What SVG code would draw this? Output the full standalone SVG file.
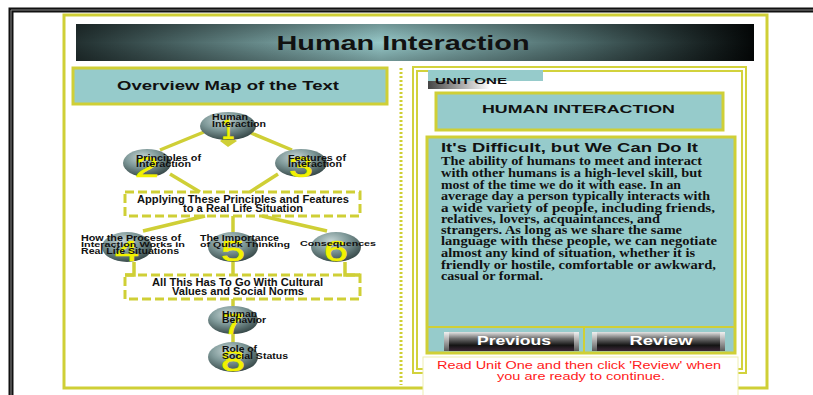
<svg xmlns="http://www.w3.org/2000/svg" width="813" height="395" viewBox="0 0 813 395">
<defs>
<linearGradient id="hdr" x1="0" y1="0" x2="1" y2="0">
<stop offset="0" stop-color="#223030"/>
<stop offset="0.45" stop-color="#96c8c8"/>
<stop offset="0.75" stop-color="#4a6666"/>
<stop offset="1" stop-color="#040707"/>
</linearGradient>
<linearGradient id="hdrv" x1="0" y1="0" x2="0" y2="1">
<stop offset="0" stop-color="#000" stop-opacity="0.25"/>
<stop offset="0.5" stop-color="#000" stop-opacity="0"/>
<stop offset="1" stop-color="#000" stop-opacity="0.25"/>
</linearGradient>
<linearGradient id="unitg" x1="0" y1="0" x2="1" y2="0">
<stop offset="0" stop-color="#444"/>
<stop offset="1" stop-color="#fff"/>
</linearGradient>
<radialGradient id="ball" cx="0.4" cy="0.3" r="0.7">
<stop offset="0" stop-color="#c4d4d4"/>
<stop offset="0.5" stop-color="#7e9898"/>
<stop offset="1" stop-color="#3a4c4c"/>
</radialGradient>
<linearGradient id="btn" x1="0" y1="0" x2="0" y2="1">
<stop offset="0" stop-color="#e4e4e4"/>
<stop offset="0.35" stop-color="#6c6c6c"/>
<stop offset="0.7" stop-color="#141414"/>
<stop offset="1" stop-color="#3c2838"/>
</linearGradient>
<linearGradient id="cap" x1="0" y1="0" x2="0" y2="1">
<stop offset="0" stop-color="#f0f0f0"/>
<stop offset="1" stop-color="#5a5a5a"/>
</linearGradient>
</defs>
<style>
.y{fill:none;stroke:#cfcf36;stroke-width:3}
.yt{fill:none;stroke:#d2d23c;stroke-width:2}
.teal{fill:#96cbcb}
.con{fill:none;stroke:#cfcf36;stroke-width:3.5}
.dash{fill:none;stroke:#cfcf36;stroke-width:3;stroke-dasharray:9 4}
.ball{fill:url(#ball)}
.num{font-family:"Liberation Sans",Arial,sans-serif;font-size:29px;fill:#f2f200;stroke:#f2f200;stroke-width:0.6;text-anchor:middle}
.nt{font-family:"Liberation Sans",Arial,sans-serif;font-size:8.5px;font-weight:bold;fill:#111}
.ns{font-family:"Liberation Sans",Arial,sans-serif;font-size:7px;font-weight:bold;fill:#111}
.bt{font-family:"Liberation Sans",Arial,sans-serif;font-size:10px;font-weight:bold;fill:#111}
.hd{font-family:"Liberation Sans",Arial,sans-serif;font-weight:bold;fill:#111}
.body{font-family:"Liberation Serif","Times New Roman",serif;font-size:12px;font-weight:bold;fill:#111}
.red{font-family:"Liberation Sans",Arial,sans-serif;font-size:11px;fill:#ff1a1a}
.bw{font-family:"Liberation Sans",Arial,sans-serif;font-size:12px;font-weight:bold;fill:#fff}
</style>
<rect width="813" height="395" fill="#fff"/>
<!-- outer black frame -->
<path d="M11 395 V10 H813" fill="none" stroke="#111" stroke-width="5"/>
<path d="M11 395 V10 H813" fill="none" stroke="#888" stroke-width="1"/>
<!-- outer yellow panel -->
<rect x="64" y="15" width="703" height="373" class="y"/>
<!-- header -->
<g id="header">
<rect x="76" y="24" width="678" height="37" fill="url(#hdr)"/>
<rect x="76" y="24" width="678" height="37" fill="url(#hdrv)"/>
<text x="403" y="50" class="hd" font-size="21" text-anchor="middle" textLength="253" lengthAdjust="spacingAndGlyphs">Human Interaction</text>
</g>
<!-- left title -->
<g id="overview">
<rect x="73" y="68" width="314" height="36" class="teal" stroke="#cfcf36" stroke-width="3"/>
<text x="117" y="90" class="hd" font-size="13" textLength="222" lengthAdjust="spacingAndGlyphs">Overview Map of the Text</text>
</g>
<!-- dotted separator -->
<line x1="401" y1="68" x2="401" y2="385" stroke="#cfcf36" stroke-width="3" stroke-dasharray="2 2"/>
<!-- connectors -->
<g id="connectors">
<line x1="204" y1="132" x2="160" y2="150" class="con"/>
<line x1="251" y1="133" x2="292" y2="150" class="con"/>
<polygon points="220,141 228,135 237,141 228,147" fill="#cfcf36"/>
<line x1="170" y1="174" x2="200" y2="192" class="con"/>
<line x1="278" y1="174" x2="250" y2="192" class="con"/>
<line x1="205" y1="216" x2="143" y2="231" class="con"/>
<line x1="233" y1="216" x2="233" y2="232" class="con"/>
<line x1="262" y1="216" x2="327" y2="231" class="con"/>
<polyline points="134,262 134,275 125,275" class="con"/>
<line x1="233" y1="262" x2="233" y2="275" class="con"/>
<polyline points="345,262 345,275 360,275" class="con"/>
<line x1="233" y1="299" x2="233" y2="306" class="con"/>
<line x1="233" y1="334" x2="233" y2="343" class="con"/>
</g>
<!-- nodes -->
<g id="n1">
<ellipse cx="228" cy="126" rx="28" ry="14" class="ball"/>
<text x="228" y="139" class="num" textLength="13" lengthAdjust="spacingAndGlyphs">1</text>
<text x="212" y="120" class="nt" textLength="36" lengthAdjust="spacingAndGlyphs">Human</text>
<text x="212" y="127" class="nt" textLength="54" lengthAdjust="spacingAndGlyphs">Interaction</text>
</g>
<g id="n2">
<ellipse cx="147" cy="163" rx="24" ry="14" class="ball"/>
<text x="147" y="177" class="num" textLength="24" lengthAdjust="spacingAndGlyphs">2</text>
<text x="136" y="161" class="nt" textLength="65" lengthAdjust="spacingAndGlyphs">Principles of</text>
<text x="136" y="167" class="nt" textLength="55" lengthAdjust="spacingAndGlyphs">Interaction</text>
</g>
<g id="n3">
<ellipse cx="301" cy="163" rx="26" ry="14" class="ball"/>
<text x="301" y="177" class="num" textLength="24" lengthAdjust="spacingAndGlyphs">3</text>
<text x="288" y="161" class="nt" textLength="58" lengthAdjust="spacingAndGlyphs">Features of</text>
<text x="288" y="167" class="nt" textLength="54" lengthAdjust="spacingAndGlyphs">Interaction</text>
</g>
<g id="b1">
<rect x="125" y="192" width="235" height="24" class="dash"/>
<text x="137" y="203" class="bt" textLength="212" lengthAdjust="spacingAndGlyphs">Applying These Principles and Features</text>
<text x="183" y="212" class="bt" textLength="120" lengthAdjust="spacingAndGlyphs">to a Real Life Situation</text>
</g>
<g id="n4">
<ellipse cx="127" cy="247" rx="25" ry="15" class="ball"/>
<text x="127" y="261" class="num" textLength="24" lengthAdjust="spacingAndGlyphs">4</text>
<text x="81" y="241" class="nt" textLength="100" lengthAdjust="spacingAndGlyphs">How the Process of</text>
<text x="81" y="247" class="ns" textLength="104" lengthAdjust="spacingAndGlyphs">Interaction Works in</text>
<text x="81" y="254" class="nt" textLength="98" lengthAdjust="spacingAndGlyphs">Real Life Situations</text>
</g>
<g id="n5">
<ellipse cx="233" cy="247" rx="25" ry="15" class="ball"/>
<text x="233" y="261" class="num" textLength="24" lengthAdjust="spacingAndGlyphs">5</text>
<text x="200" y="241" class="nt" textLength="79" lengthAdjust="spacingAndGlyphs">The Importance</text>
<text x="200" y="247" class="ns" textLength="90" lengthAdjust="spacingAndGlyphs">of Quick Thinking</text>
</g>
<g id="n6">
<ellipse cx="336" cy="247" rx="25" ry="15" class="ball"/>
<text x="336" y="261" class="num" textLength="24" lengthAdjust="spacingAndGlyphs">6</text>
<text x="300" y="246" class="ns" textLength="76" lengthAdjust="spacingAndGlyphs">Consequences</text>
</g>
<g id="b2">
<rect x="125" y="275" width="235" height="24" class="dash"/>
<text x="152" y="286" class="bt" font-size="11" textLength="171" lengthAdjust="spacingAndGlyphs">All This Has To Go With Cultural</text>
<text x="172" y="295" class="bt" font-size="11" textLength="132" lengthAdjust="spacingAndGlyphs">Values and Social Norms</text>
</g>
<g id="n7">
<ellipse cx="233" cy="320" rx="25" ry="14" class="ball"/>
<text x="233" y="334" class="num" textLength="22" lengthAdjust="spacingAndGlyphs">7</text>
<text x="222" y="317" class="nt" textLength="35" lengthAdjust="spacingAndGlyphs">Human</text>
<text x="222" y="323" class="nt" textLength="44" lengthAdjust="spacingAndGlyphs">Behavior</text>
</g>
<g id="n8">
<ellipse cx="233" cy="357" rx="25" ry="15" class="ball"/>
<text x="233" y="371" class="num" textLength="24" lengthAdjust="spacingAndGlyphs">8</text>
<text x="222" y="352" class="nt" textLength="35" lengthAdjust="spacingAndGlyphs">Role of</text>
<text x="222" y="359" class="nt" textLength="66" lengthAdjust="spacingAndGlyphs">Social Status</text>
</g>
<!-- right panel -->
<g id="unit-panel">
<rect x="413" y="67" width="333" height="306" class="yt"/>
<rect x="417" y="71" width="325" height="298" class="yt"/>
<rect x="428" y="80" width="62" height="9" fill="url(#unitg)"/>
<rect x="428" y="70" width="115" height="11" class="teal"/>
<text x="435" y="84" class="hd" font-size="9.5" textLength="72" lengthAdjust="spacingAndGlyphs">UNIT ONE</text>
</g>
<g id="unit-title">
<rect x="436" y="93" width="287" height="37" class="teal" stroke="#cfcf36" stroke-width="3"/>
<text x="482" y="113" class="hd" font-size="11" textLength="193" lengthAdjust="spacingAndGlyphs">HUMAN INTERACTION</text>
</g>
<g id="text-box">
<rect x="427" y="137" width="308" height="216" class="teal" stroke="#cfcf36" stroke-width="3"/>
<line x1="427" y1="327" x2="735" y2="327" stroke="#cfcf36" stroke-width="2"/>
<line x1="584" y1="327" x2="584" y2="353" stroke="#cfcf36" stroke-width="2"/>
<text x="441" y="152" class="hd" font-size="12.5" textLength="257" lengthAdjust="spacingAndGlyphs">It's Difficult, but We Can Do It</text>
<text x="441" y="165" class="body" textLength="261" lengthAdjust="spacingAndGlyphs">The ability of humans to meet and interact</text>
<text x="441" y="177" class="body" textLength="261" lengthAdjust="spacingAndGlyphs">with other humans is a high-level skill, but</text>
<text x="441" y="189" class="body" textLength="240" lengthAdjust="spacingAndGlyphs">most of the time we do it with ease. In an</text>
<text x="441" y="200" class="body" textLength="269" lengthAdjust="spacingAndGlyphs">average day a person typically interacts with</text>
<text x="441" y="212" class="body" textLength="274" lengthAdjust="spacingAndGlyphs">a wide variety of people, including friends,</text>
<text x="441" y="223" class="body" textLength="219" lengthAdjust="spacingAndGlyphs">relatives, lovers, acquaintances, and</text>
<text x="441" y="234" class="body" textLength="241" lengthAdjust="spacingAndGlyphs">strangers. As long as we share the same</text>
<text x="441" y="245" class="body" textLength="276" lengthAdjust="spacingAndGlyphs">language with these people, we can negotiate</text>
<text x="441" y="257" class="body" textLength="254" lengthAdjust="spacingAndGlyphs">almost any kind of situation, whether it is</text>
<text x="441" y="269" class="body" textLength="275" lengthAdjust="spacingAndGlyphs">friendly or hostile, comfortable or awkward,</text>
<text x="441" y="280" class="body" textLength="102" lengthAdjust="spacingAndGlyphs">casual or formal.</text>
</g>
<g id="btn-previous">
<rect x="444" y="332" width="135" height="19" fill="url(#btn)"/>
<rect x="444" y="332" width="5" height="19" fill="url(#cap)"/>
<rect x="574" y="332" width="5" height="19" fill="url(#cap)"/>
<text x="514" y="345" class="bw" text-anchor="middle" textLength="74" lengthAdjust="spacingAndGlyphs">Previous</text>
</g>
<g id="btn-review">
<rect x="592" y="332" width="133" height="19" fill="url(#btn)"/>
<rect x="592" y="332" width="5" height="19" fill="url(#cap)"/>
<rect x="720" y="332" width="5" height="19" fill="url(#cap)"/>
<text x="661" y="345" class="bw" text-anchor="middle" textLength="63" lengthAdjust="spacingAndGlyphs">Review</text>
</g>
<g id="message">
<rect x="423" y="357" width="315" height="40" fill="#fff" stroke="#eeeeb0" stroke-width="1"/>
<text x="579" y="369" class="red" text-anchor="middle" textLength="284" lengthAdjust="spacingAndGlyphs">Read Unit One and then click 'Review' when</text>
<text x="581" y="380" class="red" text-anchor="middle" textLength="168" lengthAdjust="spacingAndGlyphs">you are ready to continue.</text>
</g>
</svg>
